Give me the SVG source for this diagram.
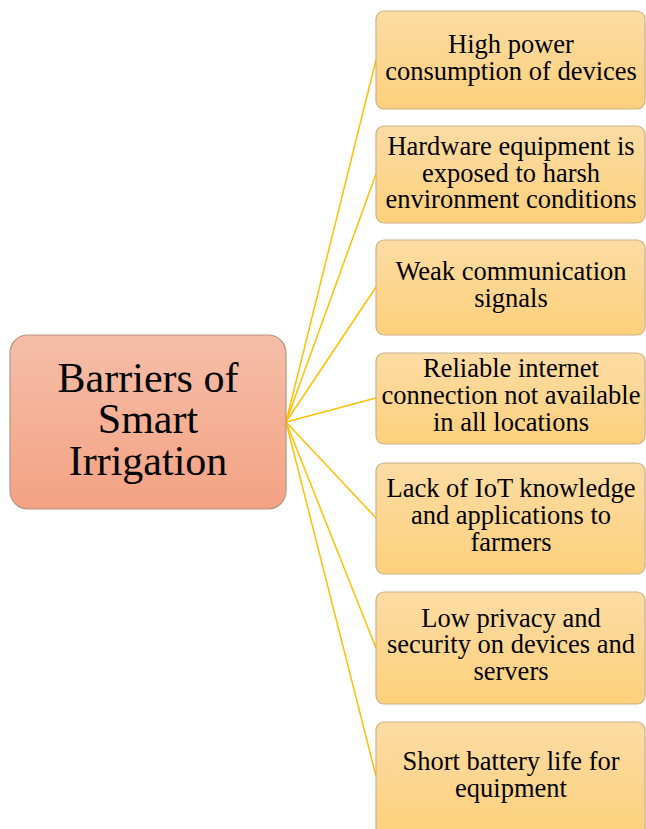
<svg xmlns="http://www.w3.org/2000/svg" width="646" height="829" viewBox="0 0 646 829">
<defs>
<linearGradient id="gMain" x1="0" y1="0" x2="0" y2="1">
<stop offset="0" stop-color="#f5bea8"/>
<stop offset="1" stop-color="#f4a283"/>
</linearGradient>
<linearGradient id="gBox" x1="0" y1="0" x2="0" y2="1">
<stop offset="0" stop-color="#fcdca4"/>
<stop offset="1" stop-color="#fdd07b"/>
</linearGradient>
<style>
.main{fill:url(#gMain);stroke:#b89484;stroke-width:1.2}
.box{fill:url(#gBox);stroke:#c9b28c;stroke-width:1.2}
.t{font-family:"Liberation Serif","Times New Roman",serif;fill:#000;text-anchor:middle}
.tm{font-size:42px}
.ts{font-size:26.5px}
.con line{stroke:#ffc000;stroke-width:1.5}
</style>
</defs>
<rect width="646" height="829" fill="#ffffff"/>
<g class="con" id="connectors">
<line x1="286" y1="422" x2="376" y2="60"/>
<line x1="286" y1="422" x2="376" y2="174"/>
<line x1="286" y1="422" x2="376" y2="287"/>
<line x1="286" y1="422" x2="376" y2="398"/>
<line x1="286" y1="422" x2="376" y2="518"/>
<line x1="286" y1="422" x2="376" y2="648"/>
<line x1="286" y1="422" x2="376" y2="776"/>
</g>
<g id="main">
<rect class="main" x="10" y="335" width="276" height="174" rx="18"/>
<text class="t tm" x="148" y="392">Barriers of</text>
<text class="t tm" x="148" y="433">Smart</text>
<text class="t tm" x="148" y="475">Irrigation</text>
</g>
<g id="b1">
<rect class="box" x="376" y="11" width="269" height="98" rx="8"/>
<text class="t ts" x="511" y="53">High power</text>
<text class="t ts" x="511" y="80">consumption of devices</text>
</g>
<g id="b2">
<rect class="box" x="376" y="126" width="269" height="97" rx="8"/>
<text class="t ts" x="511" y="155">Hardware equipment is</text>
<text class="t ts" x="511" y="182">exposed to harsh</text>
<text class="t ts" x="511" y="208">environment conditions</text>
</g>
<g id="b3">
<rect class="box" x="376" y="240" width="269" height="95" rx="8"/>
<text class="t ts" x="511" y="280">Weak communication</text>
<text class="t ts" x="511" y="307">signals</text>
</g>
<g id="b4">
<rect class="box" x="376" y="353" width="269" height="91" rx="8"/>
<text class="t ts" x="511" y="377">Reliable internet</text>
<text class="t ts" x="511" y="404">connection not available</text>
<text class="t ts" x="511" y="431">in all locations</text>
</g>
<g id="b5">
<rect class="box" x="376" y="463" width="269" height="111" rx="8"/>
<text class="t ts" x="511" y="497">Lack of IoT knowledge</text>
<text class="t ts" x="511" y="524">and applications to</text>
<text class="t ts" x="511" y="551">farmers</text>
</g>
<g id="b6">
<rect class="box" x="376" y="592" width="269" height="112" rx="8"/>
<text class="t ts" x="511" y="627">Low privacy and</text>
<text class="t ts" x="511" y="653">security on devices and</text>
<text class="t ts" x="511" y="680">servers</text>
</g>
<g id="b7">
<rect class="box" x="376" y="722" width="269" height="115" rx="8"/>
<text class="t ts" x="511" y="770">Short battery life for</text>
<text class="t ts" x="511" y="797">equipment</text>
</g>
</svg>
